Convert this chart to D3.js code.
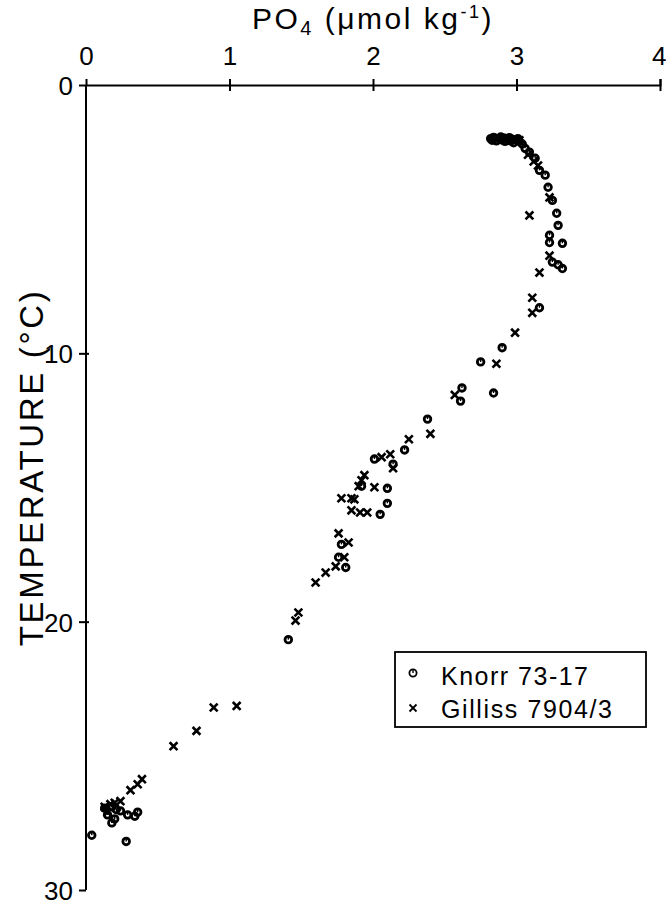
<!DOCTYPE html>
<html><head><meta charset="utf-8">
<script src="https://cdn.jsdelivr.net/npm/d3@7"></script>
<style>body{margin:0;background:#fff}svg{display:block}text{font-family:"Liberation Sans",Arial,sans-serif;fill:#000}</style>
</head><body><svg id="c" width="666" height="905"></svg>
<script>
const xTicks=[0,1,2,3,4];
const yTicks=[0,10,20,30];
const knorrPO4=[2.82,2.85,2.88,2.91,2.94,2.97,3.00,3.02,2.86,2.92,2.98,2.84,2.89,2.95,3.01,3.04,2.83,2.90,2.96,3.06,3.09,3.13,3.16,3.20,3.22,3.25,3.28,3.29,3.23,3.23,3.32,3.25,3.29,3.32,3.16,2.90,2.75,2.62,2.61,2.84,2.38,2.22,2.01,2.14,1.92,2.10,2.10,2.05,1.78,1.76,1.81,1.41,0.18,0.29,0.34,0.36,0.04,0.28,0.18,0.21,0.15,0.24,0.20,0.13];
const knorrT=[2.0,1.98,2.0,1.97,2.0,2.02,2.05,2.1,2.08,2.1,2.15,1.95,1.94,1.96,2.0,2.2,2.06,2.05,2.08,2.36,2.5,2.73,3.18,3.36,3.81,4.3,4.78,5.23,5.6,5.87,5.9,6.6,6.7,6.84,8.30,9.79,10.32,11.29,11.78,11.48,12.45,13.6,13.94,14.13,14.95,15.03,15.59,16.0,17.12,17.6,17.98,20.67,27.5,27.2,27.25,27.1,27.96,28.19,26.9,27.0,27.2,27.05,27.35,26.95];
const gillPO4=[3.02,3.08,3.15,3.12,3.23,3.09,3.23,3.16,3.11,3.11,2.99,2.86,2.57,2.40,2.25,2.12,2.06,2.14,1.94,1.92,1.90,2.01,1.78,1.85,1.87,1.85,1.91,1.96,1.76,1.83,1.80,1.74,1.67,1.60,1.48,1.46,0.89,1.05,0.77,0.61,0.39,0.36,0.31,0.24,0.17,0.13,0.20,0.15];
const gillT=[2.06,2.6,3.0,2.85,4.19,4.86,6.36,6.99,7.93,8.49,9.23,10.39,11.55,13.0,13.2,13.76,13.87,14.28,14.54,14.73,14.95,14.99,15.4,15.4,15.44,15.85,15.93,15.93,16.71,17.05,17.6,17.94,18.17,18.54,19.66,19.96,23.2,23.14,24.07,24.64,25.87,26.06,26.28,26.69,26.8,26.9,26.75,27.1];
const seriesNames=["Knorr 73-17","Gilliss 7904/3"];

const svg=d3.select("#c");
const x=d3.scaleLinear().domain([0,4]).range([86,660]);
const y=d3.scaleLinear().domain([0,30]).range([85,890]);

// top axis
const gx=svg.append("g").attr("transform","translate(0,"+y(0)+")")
  .call(d3.axisTop(x).tickValues(xTicks).tickSize(6).tickPadding(14).tickFormat(d3.format("d")));
gx.select(".domain").attr("stroke","#000").attr("stroke-width",2);
gx.selectAll(".tick line").attr("y2",-6).attr("y1",6).attr("stroke-width",2);
gx.selectAll(".tick").filter(d=>d===0).select("line").remove();
gx.selectAll(".tick text").attr("font-size",26).attr("font-family","Liberation Sans");
gx.selectAll(".tick").filter(d=>d===4).select("text").attr("text-anchor","end").attr("dx",6);

// left axis
const gy=svg.append("g").attr("transform","translate("+x(0)+",0)")
  .call(d3.axisLeft(y).tickValues(yTicks).tickSize(7).tickPadding(6).tickFormat(d3.format("d")));
gy.select(".domain").attr("stroke","#000").attr("stroke-width",2).attr("d","M0,"+y(0)+"V"+y(30));
gy.selectAll(".tick line").attr("x1",d=>(d===0||d===30)?0:3).attr("stroke-width",2);
gy.selectAll(".tick text").attr("font-size",26).attr("font-family","Liberation Sans").attr("dy","0.36em");

// titles
const t=svg.append("text").attr("x",373).attr("y",29).attr("text-anchor","middle").attr("font-size",30).attr("letter-spacing",2.5);
t.append("tspan").text("PO");
t.append("tspan").attr("font-size",20).attr("dy",6).text("4");
t.append("tspan").attr("dy",-6).text(" (\u03bcmol kg");
t.append("tspan").attr("font-size",18).attr("dy",-11).text("-1");
t.append("tspan").attr("dy",11).text(")");

svg.append("text").attr("transform","translate(43,"+y(14.3)+") rotate(-90)")
  .attr("text-anchor","middle").attr("font-size",33).attr("textLength",355).attr("lengthAdjust","spacing").text("TEMPERATURE (\u00b0C)");

// marks
function cross(g,s){g.append("path").attr("d",`M${-s},${-s}L${s},${s}M${-s},${s}L${s},${-s}`).attr("stroke","#000").attr("stroke-width",2.6).attr("fill","none");}
function circ(g,r){g.append("circle").attr("r",r).attr("fill","none").attr("stroke","#000").attr("stroke-width",2.8);
  g.append("path").attr("d",`M0,${-r+0.5}V0`).attr("stroke","#000").attr("stroke-width",1.4);}

const knorr=knorrPO4.map((v,i)=>[v,knorrT[i]]);
const gill=gillPO4.map((v,i)=>[v,gillT[i]]);
svg.append("g").selectAll("g").data(knorr).join("g")
  .attr("transform",d=>`translate(${x(d[0])},${y(d[1])})`).each(function(){circ(d3.select(this),3.3);});
svg.append("g").selectAll("g").data(gill).join("g")
  .attr("transform",d=>`translate(${x(d[0])},${y(d[1])})`).each(function(){cross(d3.select(this),3.9);});

// legend
const lg=svg.append("g");
lg.append("rect").attr("x",395).attr("y",652).attr("width",251).attr("height",75).attr("fill","#fff").attr("stroke","#000").attr("stroke-width",1.8);
const l1=lg.append("g").attr("transform","translate(413,673)");
l1.append("circle").attr("r",3.6).attr("fill","none").attr("stroke","#000").attr("stroke-width",1.8);
l1.append("path").attr("d","M0,-3V0").attr("stroke","#000").attr("stroke-width",1.4);
const l2=lg.append("g").attr("transform","translate(413,708)");
l2.append("path").attr("d","M-3.5,-3.5L3.5,3.5M-3.5,3.5L3.5,-3.5").attr("stroke","#000").attr("stroke-width",1.8);
lg.append("text").attr("x",441).attr("y",685).attr("font-size",25).attr("letter-spacing",1.5).text(seriesNames[0]);
lg.append("text").attr("x",441).attr("y",718).attr("font-size",25).attr("letter-spacing",1.6).text(seriesNames[1]);
</script></body></html>
